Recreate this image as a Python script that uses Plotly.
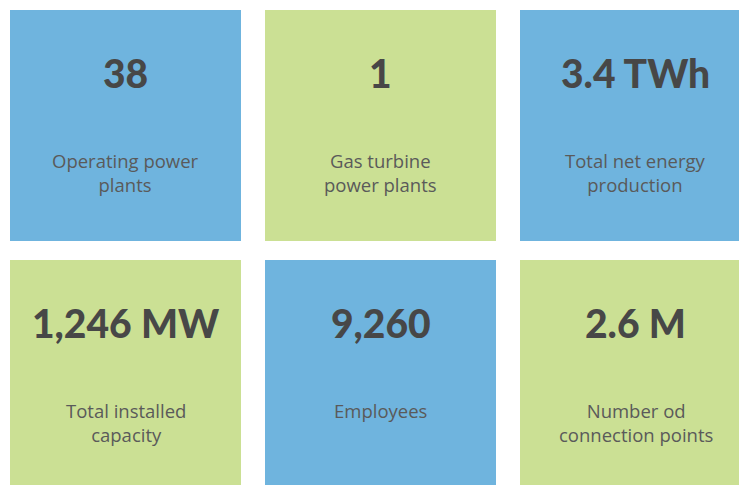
import plotly.graph_objects as go

values = ["38", "1", "3.4 TWh", "1,246 MW", "9,260", "2.6 M"]
labels = [["Operating power", "plants"], ["Gas turbine", "power plants"], ["Total net energy", "production"],
          ["Total installed", "capacity"], ["Employees"], ["Number od", "connection points"]]
tile_colors = ["#6FB4DE", "#CBE094", "#6FB4DE", "#CBE094", "#6FB4DE", "#CBE094"]

W, H = 739, 485
ncols = 3
x0, y0 = 10, 10
size = 231
gap_x, gap_y = 24, 19
label_size = 18.5
line_h = 1.3 * label_size

fig = go.Figure()
shapes = []
annotations = []
for i, (v, lab, col) in enumerate(zip(values, labels, tile_colors)):
    r, c = divmod(i, ncols)
    left = x0 + c * (size + gap_x)
    top = y0 + r * (size + gap_y)
    shapes.append(dict(type="rect", xref="x", yref="y", x0=left, x1=left + size,
                       y0=top, y1=top + size, fillcolor=col, line=dict(width=0), layer="below"))
    cx = left + size / 2
    annotations.append(dict(x=cx, y=top + 63, xref="x", yref="y", text=v, showarrow=False,
                            xanchor="center", yanchor="middle",
                            font=dict(family="Lato", size=39, color="#474747", weight=900)))
    annotations.append(dict(x=cx, y=top + 150.5 + (len(lab) - 1) * line_h / 2, xref="x", yref="y",
                            text="<br>".join(lab), showarrow=False, xanchor="center",
                            yanchor="middle", align="center",
                            font=dict(family="Open Sans", size=label_size, color="#5a5a5a", weight=400)))

fig.add_trace(go.Scatter(x=[None], y=[None], showlegend=False))
fig.update_layout(
    width=W, height=H, margin=dict(l=0, r=0, t=0, b=0),
    paper_bgcolor="white", plot_bgcolor="white",
    xaxis=dict(range=[0, W], visible=False, fixedrange=True),
    yaxis=dict(range=[H, 0], visible=False, fixedrange=True),
    shapes=shapes, annotations=annotations, showlegend=False,
)
fig.write_html("out.html", config={"displayModeBar": False},
               post_script="document.body.style.margin='0';document.body.style.padding='0';")
